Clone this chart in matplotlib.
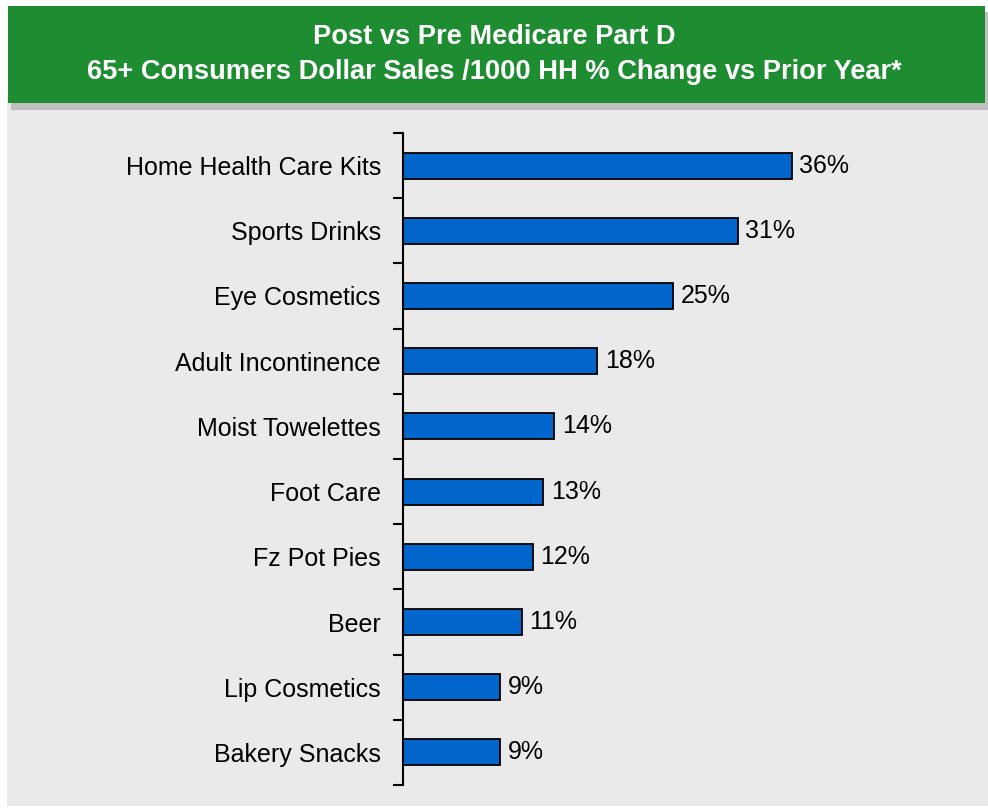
import numpy as np
import matplotlib.pyplot as plt
from matplotlib.patches import Rectangle
from matplotlib.ticker import FixedLocator

plt.rcParams['font.family'] = ['Liberation Sans', 'DejaVu Sans']

categories = ["Home Health Care Kits", "Sports Drinks", "Eye Cosmetics",
              "Adult Incontinence", "Moist Towelettes", "Foot Care",
              "Fz Pot Pies", "Beer", "Lip Cosmetics", "Bakery Snacks"]
pct_change = [36, 31, 25, 18, 14, 13, 12, 11, 9, 9]
title_lines = ["Post vs Pre Medicare Part D",
               "65+ Consumers Dollar Sales /1000 HH % Change vs Prior Year*"]

W, H = 988, 809
fig = plt.figure(figsize=(W / 100, H / 100), dpi=100)
fig.patch.set_facecolor('white')

def px_rect(x0, y0, x1, y1, color, z):
    # rectangle in pixel coords (top-left origin)
    fig.patches.append(Rectangle((x0 / W, 1 - y1 / H), (x1 - x0) / W, (y1 - y0) / H,
                                 transform=fig.transFigure, facecolor=color,
                                 edgecolor='none', zorder=z))

px_rect(7, 95, 988, 806, '#EAEAEA', 0)     # panel
px_rect(11, 12, 988, 110, '#C0C0C0', 1)    # banner shadow
px_rect(8, 6, 985, 103, '#1E8C31', 2)      # banner

fig.text(0.5, 1 - 37 / H, title_lines[0], ha='center', va='center',
         color='white', fontsize=19.6, fontweight='bold', zorder=3)
fig.text(0.5, 1 - 72 / H, title_lines[1], ha='center', va='center',
         color='white', fontsize=19.6, fontweight='bold', zorder=3)

ax_left, ax_top, ax_bot = 403, 133, 785
ax = fig.add_axes([ax_left / W, 1 - ax_bot / H, 540 / W, (ax_bot - ax_top) / H])
ax.set_facecolor('none')
ax.set_zorder(4)

y = np.arange(len(categories))
ax.barh(y, pct_change, height=0.4, color='#0066CC', edgecolor='black', linewidth=1.3)
for yi, v in zip(y, pct_change):
    ax.text(v + 0.7, yi, f"{v}%", va='center', ha='left', fontsize=18)

ax.set_xlim(0, 50)
ax.set_ylim(len(categories) - 0.5, -0.5)
ax.set_yticks(y)
ax.set_yticklabels(categories, fontsize=18)
ax.yaxis.set_minor_locator(FixedLocator(np.arange(-0.5, len(categories), 1)))
ax.tick_params(axis='y', which='major', length=0, pad=16)
ax.tick_params(axis='y', which='minor', length=7, width=1.5, direction='out')
ax.set_xticks([])
for s in ['top', 'right', 'bottom']:
    ax.spines[s].set_visible(False)
ax.spines['left'].set_linewidth(1.5)

plt.savefig('out.png', dpi=100)
